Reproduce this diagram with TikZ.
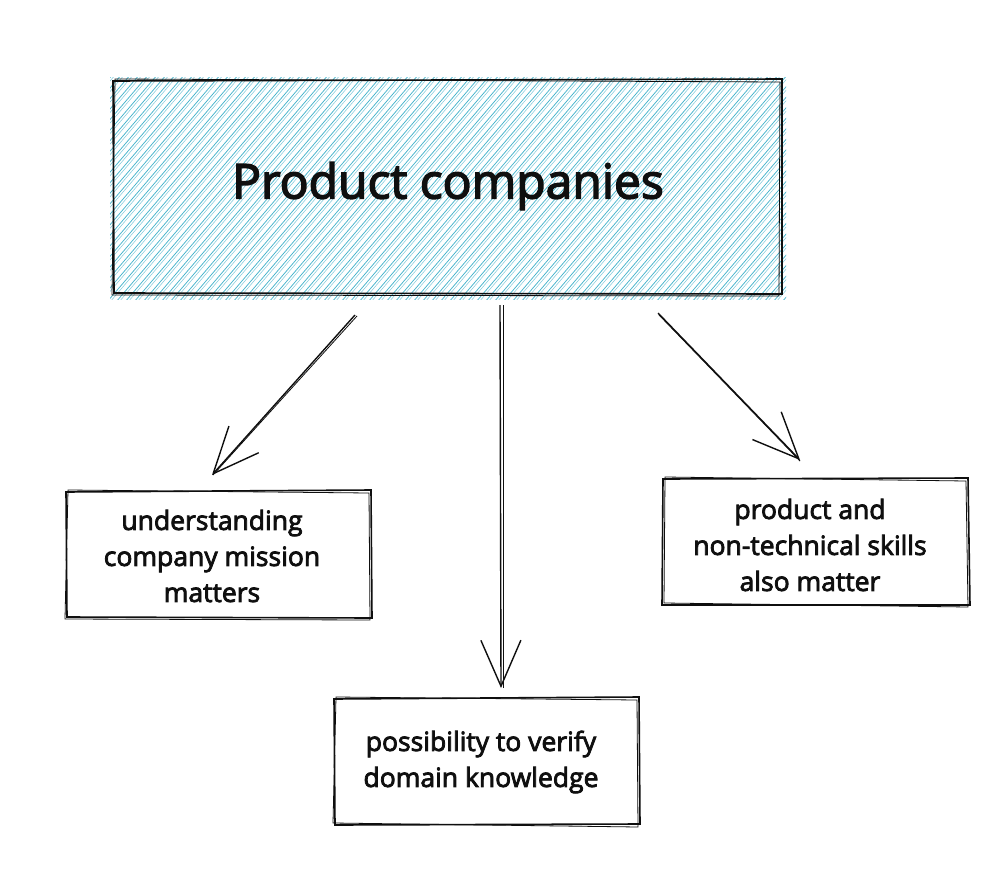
\documentclass[tikz,border=0pt]{standalone}
\usepackage{fontspec}
\setmainfont{Open Sans}
\newfontfamily\hand[FakeBold=3]{Open Sans}
\usetikzlibrary{arrows.meta,calc}
\definecolor{hatch}{RGB}{70,180,204}
\definecolor{ink}{RGB}{15,15,15}
\tikzset{
  sketch/.style={draw=ink,line width=1.6pt},
  sketchthin/.style={draw=ink,line width=0.8pt},
  lbl/.style={font=\hand\fontsize{26.5}{36}\selectfont,align=center,text=ink},
  conn/.style={draw=ink,line width=1.4pt,-{Straight Barb[length=46pt,width=40pt,line width=1.4pt]}},
}
\begin{document}
\begin{tikzpicture}[x=1pt,y=-1pt]
\useasboundingbox[fill=white] (0,0) rectangle (1004,886);
% hatched title box
\begin{scope}
  \clip (110,77) rectangle (786,299);
  \foreach \i in {-240,-231,...,700}{
    \draw[hatch,line width=0.75pt] (113+\i,302) -- ++(195,-228);
    \draw[hatch!70,line width=0.5pt] (116+\i,302) -- ++(195,-228);
  }
\end{scope}
\draw[sketch] (113,81) -- (782,79) -- (782,294) -- (114,293) -- cycle;
\draw[sketchthin] (115,79) -- (780,82) -- (779,296) -- (112,295) -- cycle;
\node[font=\hand\fontsize{48}{56}\selectfont,text=ink] (top) at (448,186) {Product companies};

% left box
\draw[sketch] (66,492) -- (371,490) -- (372,618) -- (67,617) -- cycle;
\draw[sketchthin] (68,490) -- (369,493) -- (370,620) -- (65,619) -- cycle;
\node[lbl] (left) at (212,556) {understanding\\company mission\\matters};

% right box
\draw[sketch] (663,479) -- (968,478) -- (970,605) -- (662,605) -- cycle;
\draw[sketchthin] (665,477) -- (966,481) -- (968,607) -- (664,603) -- cycle;
\node[lbl] (right) at (810,545) {product and\\non-technical skills\\also matter};

% bottom box
\draw[sketch] (334,699) -- (639,697) -- (640,824) -- (335,825) -- cycle;
\draw[sketchthin] (336,697) -- (637,700) -- (638,827) -- (333,823) -- cycle;
\node[lbl] (bottom) at (481,762) {possibility to verify\\domain knowledge};

% connectors
\coordinate (a1) at (355,315);
\coordinate (a2) at (212,475);
\coordinate (b1) at (500,305);
\coordinate (b2) at (501,688);
\coordinate (c1) at (658,313);
\coordinate (c2) at (800,460);
\draw[conn] (a1) -- (a2);
\draw[sketchthin] ($(a1)+(2,1)$) -- ($(a2)+(1,0)$);
\draw[conn] (b1) -- (b2);
\draw[sketchthin] ($(b1)+(3,0)$) -- ($(b2)+(2,0)$);
\draw[conn] (c1) -- (c2);
\draw[sketchthin] ($(c1)+(1,2)$) -- ($(c2)+(0,1)$);
\end{tikzpicture}
\end{document}
